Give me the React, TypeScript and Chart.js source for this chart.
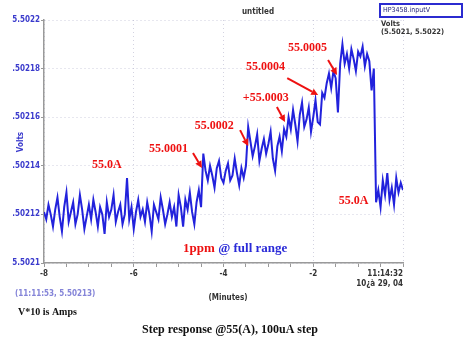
import { useEffect, useRef } from "react";
import { Chart, registerables } from "chart.js";

Chart.register(...registerables);

// Time axis (minutes before 11:14:32), one reading every 3 s
const startMinute = -8;
const stepMinutes = 0.05;

// Measured voltage (V)
const volts = [
  5.502121, 5.502118, 5.502124, 5.50212, 5.502115, 5.502122, 5.502127, 5.502119, 5.502113, 5.502123,
  5.502129, 5.502117, 5.502121, 5.502125, 5.502116, 5.50212, 5.502128, 5.502122, 5.502114, 5.502119,
  5.502124, 5.502118, 5.502126, 5.502121, 5.502115, 5.502123, 5.50212, 5.502112, 5.502125, 5.502119,
  5.502122, 5.502128, 5.502117, 5.502121, 5.502124, 5.502116, 5.50212, 5.502135, 5.502118, 5.502123,
  5.502114, 5.502121, 5.502126, 5.502119, 5.502122, 5.502117, 5.502125, 5.50212, 5.502113, 5.502124,
  5.502121, 5.502118, 5.502127, 5.502122, 5.502116, 5.50212, 5.502125, 5.502119, 5.502123, 5.502115,
  5.502128, 5.502123, 5.502115, 5.502126, 5.502122, 5.502129, 5.502121, 5.502116, 5.502125, 5.50213,
  5.502123,
  5.502145, 5.502138, 5.502134, 5.50214, 5.502136, 5.502131, 5.502139, 5.502142, 5.502135, 5.502133,
  5.502138, 5.502141, 5.502134, 5.502136, 5.502143, 5.502137, 5.502132, 5.502139, 5.502135, 5.50214,
  5.502156, 5.50215, 5.502144, 5.502148, 5.502153, 5.502142, 5.502147, 5.502151, 5.502145, 5.502149,
  5.502154, 5.502143, 5.502138, 5.502148, 5.502152, 5.502146, 5.502155,
  5.502152, 5.50216, 5.502155, 5.502163, 5.502157, 5.50215, 5.502161, 5.502166, 5.502156, 5.502159,
  5.502164, 5.502154, 5.50216, 5.502167, 5.502158, 5.502157,
  5.50217, 5.502168, 5.502174, 5.502178, 5.502172, 5.502179, 5.502176, 5.502162, 5.502182, 5.50219,
  5.502182, 5.502186, 5.50218, 5.502188, 5.502184, 5.502179, 5.502187, 5.502185, 5.502189, 5.502181,
  5.502186, 5.502183, 5.502171, 5.50218,
  5.502125, 5.50213, 5.502123, 5.502134, 5.502128, 5.502137, 5.502126, 5.502131, 5.502124, 5.502135,
  5.502129, 5.502133, 5.50213,
];

const minutes = volts.map((_, i) => +(startMinute + i * stepMinutes).toFixed(2));

// Axes
const xTickValues = [-8, -7.5, -7, -6.5, -6, -5.5, -5, -4.5, -4, -3.5, -3, -2.5, -2, -1.5, -1, -0.5, 0];
const xLabelledTicks = [-8, -6, -4, -2];
const xEndLabel = ["11:14:32", "10\u00bf\u00e0 29, 04"];
const yTickValues = [5.5021, 5.50212, 5.50214, 5.50216, 5.50218, 5.5022];
const yTickLabels = ["5.5021", ".50212", ".50214", ".50216", ".50218", "5.5022"];

// Annotations (in data coordinates)
const noteLabels = ["55.0A", "55.0001", "55.0002", "+55.0003", "55.0004", "55.0005", "55.0A"];
const noteMinutes = [-6.93, -5.66, -4.64, -3.57, -3.5, -2.56, -1.43];
const noteVolts = [5.5021403, 5.5021471, 5.5021566, 5.5021681, 5.5021809, 5.5021887, 5.5021257];

const arrowFromMinutes = [-4.68, -3.63, -2.81, -2.58, -1.67];
const arrowFromVolts = [5.5021453, 5.5021547, 5.5021642, 5.5021761, 5.5021835];
const arrowToMinutes = [-4.48, -3.45, -2.63, -1.89, -1.47];
const arrowToVolts = [5.5021391, 5.5021481, 5.502158, 5.5021691, 5.5021774];

const NARROW = '"Liberation Sans Narrow", "DejaVu Sans Condensed", "Liberation Sans", sans-serif';
const SERIF = '"Liberation Serif", "DejaVu Serif", serif';

const overlay = {
  id: "overlay",
  afterDraw(chart: any) {
    const { ctx, chartArea } = chart;
    const x = chart.scales.x;
    const y = chart.scales.y;
    ctx.save();

    // title
    ctx.fillStyle = "#333";
    ctx.font = `bold 8px ${NARROW}`;
    ctx.textAlign = "center";
    ctx.textBaseline = "middle";
    ctx.fillText("untitled", 258, 12);

    // legend box
    ctx.strokeStyle = "#2b2bd0";
    ctx.lineWidth = 2;
    ctx.fillStyle = "#fff";
    ctx.fillRect(380, 4, 82, 13);
    ctx.strokeRect(380, 4, 82, 13);
    ctx.fillStyle = "#22227a";
    ctx.font = `7px ${NARROW}`;
    ctx.textAlign = "left";
    ctx.fillText("HP3458.inputV", 383, 10.5);
    ctx.fillStyle = "#333";
    ctx.font = `bold 7.5px ${NARROW}`;
    ctx.fillText("Volts", 381, 24);
    ctx.fillText("(5.5021, 5.5022)", 381, 32);

    // y axis title
    ctx.save();
    ctx.translate(21, 142);
    ctx.rotate(-Math.PI / 2);
    ctx.fillStyle = "#3a3acc";
    ctx.font = `bold 8px ${NARROW}`;
    ctx.textAlign = "center";
    ctx.fillText("Volts", 0, 0);
    ctx.restore();

    // end label of x axis
    ctx.fillStyle = "#333";
    ctx.font = `bold 8px ${NARROW}`;
    ctx.textAlign = "right";
    ctx.fillText(xEndLabel[0], chartArea.right, 274);
    ctx.fillText(xEndLabel[1], chartArea.right, 284);

    // axis caption
    ctx.textAlign = "center";
    ctx.fillText("(Minutes)", 228, 298);
    ctx.fillStyle = "#8484d8";
    ctx.textAlign = "left";
    ctx.fillText("(11:11:53, 5.50213)", 15, 294);

    // notes
    ctx.fillStyle = "#ee1111";
    ctx.font = `bold 12px ${SERIF}`;
    ctx.textAlign = "left";
    ctx.textBaseline = "middle";
    noteLabels.forEach((t, i) => {
      ctx.fillText(t, x.getPixelForValue(noteMinutes[i]), y.getPixelForValue(noteVolts[i]));
    });

    // arrows
    ctx.strokeStyle = "#ee1111";
    ctx.fillStyle = "#ee1111";
    ctx.lineWidth = 2;
    arrowFromMinutes.forEach((_, i) => {
      const x1 = x.getPixelForValue(arrowFromMinutes[i]);
      const y1 = y.getPixelForValue(arrowFromVolts[i]);
      const x2 = x.getPixelForValue(arrowToMinutes[i]);
      const y2 = y.getPixelForValue(arrowToVolts[i]);
      const a = Math.atan2(y2 - y1, x2 - x1);
      const hl = 7;
      const bx = x2 - hl * Math.cos(a);
      const by = y2 - hl * Math.sin(a);
      ctx.beginPath();
      ctx.moveTo(x1, y1);
      ctx.lineTo(bx, by);
      ctx.stroke();
      ctx.beginPath();
      ctx.moveTo(x2, y2);
      ctx.lineTo(bx + 3.5 * Math.sin(a), by - 3.5 * Math.cos(a));
      ctx.lineTo(bx - 3.5 * Math.sin(a), by + 3.5 * Math.cos(a));
      ctx.closePath();
      ctx.fill();
    });

    // 1ppm @ full range
    ctx.font = `bold 13px ${SERIF}`;
    const px = x.getPixelForValue(-4.9);
    const py = y.getPixelForValue(5.5021058);
    ctx.fillStyle = "#ee1111";
    ctx.fillText("1ppm", px, py);
    const w = ctx.measureText("1ppm ").width;
    ctx.fillStyle = "#2a2ad8";
    ctx.fillText("@ full range", px + w, py);

    // footer texts
    ctx.fillStyle = "#111";
    ctx.font = `bold 10px ${SERIF}`;
    ctx.textAlign = "left";
    ctx.fillText("V*10 is Amps", 18, 312);
    ctx.font = `bold 12px ${SERIF}`;
    ctx.textAlign = "center";
    ctx.fillText("Step response @55(A), 100uA step", 230, 330);

    ctx.restore();
  },
};

export default function App() {
  const ref = useRef<HTMLCanvasElement | null>(null);

  useEffect(() => {
    document.body.style.margin = "0";
    const canvas = ref.current;
    if (!canvas) return;
    const chart = new Chart(canvas, {
      type: "line",
      data: {
        datasets: [
          {
            data: minutes.map((m, i) => ({ x: m, y: volts[i] })),
            borderColor: "#2222dc",
            borderWidth: 2,
            pointRadius: 0,
            tension: 0,
          },
        ],
      },
      options: {
        animation: false,
        responsive: false,
        layout: { padding: { left: 0, right: 64, top: 20, bottom: 0 } },
        plugins: {
          legend: { display: false },
          title: { display: false },
          tooltip: { enabled: false },
        },
        scales: {
          x: {
            type: "linear",
            min: -8,
            max: 0,
            afterBuildTicks: (s: any) => {
              s.ticks = xTickValues.map((v) => ({ value: v }));
            },
            afterFit: (s: any) => {
              s.height = 79;
            },
            ticks: {
              autoSkip: false,
              maxRotation: 0,
              padding: 2,
              color: "#333",
              font: { family: NARROW, size: 8, weight: "bold" },
              callback: (v: any) => (xLabelledTicks.includes(Number(v)) ? String(v) : ""),
            },
            grid: {
              color: (c: any) =>
                c.tick && (xLabelledTicks.includes(c.tick.value) || c.tick.value === 0)
                  ? "rgba(175,175,200,0.55)"
                  : "rgba(0,0,0,0)",
              tickColor: "#999",
              tickLength: 4,
            },
            border: { color: "#9a9a9a", width: 1.5, dash: [1, 3] },
          },
          y: {
            type: "linear",
            min: 5.5021,
            max: 5.5022,
            afterBuildTicks: (s: any) => {
              s.ticks = yTickValues.map((v) => ({ value: v }));
            },
            afterFit: (s: any) => {
              s.width = 44;
            },
            ticks: {
              padding: 1,
              color: "#3a3acc",
              font: { family: NARROW, size: 8, weight: "bold" },
              callback: (_v: any, i: number) => yTickLabels[i],
            },
            grid: {
              color: "rgba(175,175,200,0.6)",
              tickColor: "#999",
              tickLength: 3,
            },
            border: { color: "#9a9a9a", width: 1.5, dash: [1, 3] },
          },
        },
      },
      plugins: [overlay],
    } as any);
    return () => chart.destroy();
  }, []);

  return <canvas ref={ref} width={467} height={342} style={{ display: "block" }} />;
}
